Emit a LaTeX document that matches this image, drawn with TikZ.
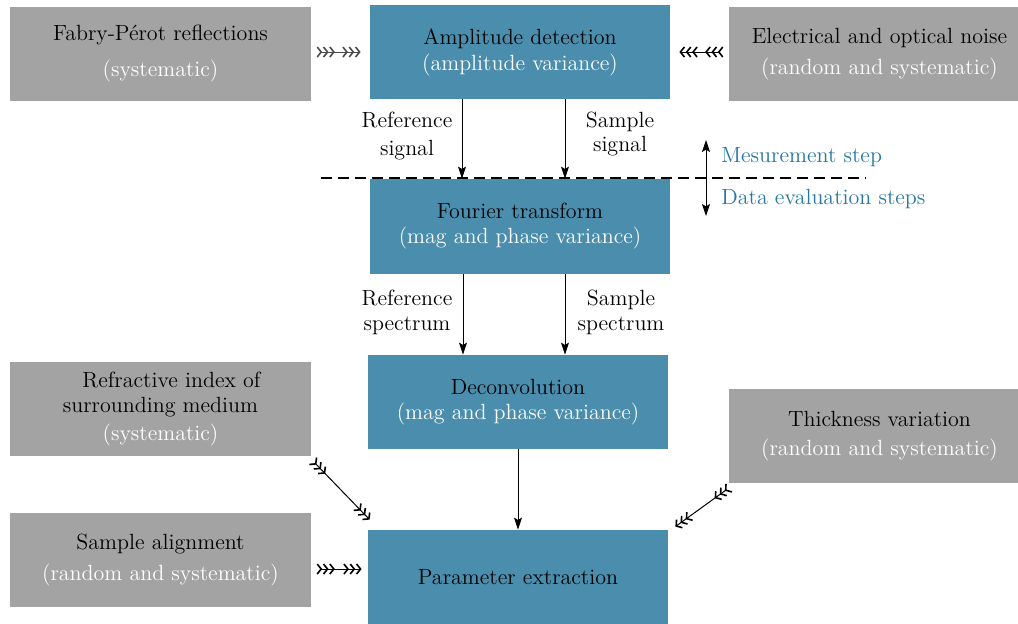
\documentclass[tikz,border=0pt]{standalone}
\usetikzlibrary{arrows.meta,calc}
\definecolor{boxblue}{HTML}{4A8DAD}
\definecolor{boxgray}{HTML}{A3A3A3}
\definecolor{notetxt}{HTML}{2577A3}
\tikzset{
  chevs/.tip={Straight Barb[length=2pt,width=5pt,line width=0.8pt,sep=0.25pt]Straight Barb[length=2pt,width=5pt,line width=0.8pt,sep=0.25pt]Straight Barb[length=2pt,width=5pt,line width=0.8pt]},
  base/.style={minimum width=150pt, minimum height=47pt, inner sep=0pt, align=center,
    font=\fontsize{11}{12.5}\selectfont},
  gbox/.style={base, fill=boxgray, minimum width=150.5pt},
  bbox/.style={base, fill=boxblue},
  lbl/.style={align=center, inner sep=0pt, font=\fontsize{11}{12.5}\selectfont},
  note/.style={anchor=west, inner sep=0pt, text=notetxt, font=\fontsize{11}{12.5}\selectfont},
  flow/.style={-{Stealth[length=6pt,width=4pt,inset=1.2pt]}, line width=0.5pt},
  feather/.style={line width=0.5pt, arrows={chevs[reversed]-chevs}},
}
\newcommand{\wh}[1]{\textcolor{white}{#1}}
\begin{document}
\begin{tikzpicture}[x=0.5pt,y=-0.5pt]
  \useasboundingbox (0,0) rectangle (1018,623);
  \clip (0,0) rectangle (1018,623);

  % process steps
  \node[bbox] (ad) at (520,52)    {Amplitude detection\\[0.5pt]\wh{(amplitude variance)}};
  \node[bbox, minimum height=47.5pt] (ft) at (520,226.5) {Fourier transform\\\wh{(mag and phase variance)}};
  \node[bbox] (dc) at (518,402)   {Deconvolution\\\wh{(mag and phase variance)}};
  \node[bbox] (pe) at (518,577)   {Parameter extraction};

  % error sources
  \node[gbox] (fp) at (160.5,54)  {Fabry-P\'erot reflections\\[5.5pt]\wh{(systematic)}};
  \node[gbox] (en) at (879.5,54)  {Electrical and optical noise\\[3pt]\wh{(random and systematic)}};
  \node[gbox] (ri) at (160.5,409) {\hspace*{11pt}Refractive index of\\surrounding medium\\[1.5pt]\wh{(systematic)}};
  \node[gbox] (tv) at (879.5,436) {Thickness variation\\[2pt]\wh{(random and systematic)}};
  \node[gbox] (sa) at (160.5,560) {Sample alignment\\[3pt]\wh{(random and systematic)}};

  % signal flow
  \draw[flow] ([xshift=-29pt]ad.south) -- ([xshift=-29pt]ad.south |- ft.north);
  \draw[flow] ([xshift=22.5pt]ad.south) -- ([xshift=22.5pt]ad.south |- ft.north);
  \draw[flow] ([xshift=-28.5pt]ft.south) -- ([xshift=-28.5pt]ft.south |- dc.north);
  \draw[flow] ([xshift=22.5pt]ft.south) -- ([xshift=22.5pt]ft.south |- dc.north);
  \draw[flow] (dc.south) -- (pe.north);

  \node[lbl] (lrs) at (407,136) {Reference\\[1.5pt]signal};
  \node[lbl] (lss) at (620,134) {Sample\\signal};
  \node[lbl] (lrp) at (407,312) {Reference\\spectrum};
  \node[lbl] (lsp) at (621,312) {Sample\\spectrum};

  % boundary between measurement and evaluation
  \coordinate (dl) at (321,178);
  \coordinate (dr) at (866,178);
  \draw[line width=1pt, dash pattern=on 5.5pt off 3pt] (dl) -- (dr);
  \coordinate (mid) at (706,178);
  \coordinate (up) at (706,140);
  \coordinate (dn) at (706,216);
  \draw[flow] (mid) -- (up);
  \draw[flow] (mid) -- (dn);
  \node[note] (ms) at (721,157) {Mesurement step};
  \node[note] (ds) at (721,199) {Data evaluation steps};

  % error contributions
  \draw[feather, draw=black!70, shorten <=2.5pt, shorten >=4.5pt] (fp.east |- ad.west) -- (ad.west);
  \draw[feather, shorten <=2.5pt, shorten >=4.5pt] (en.west |- ad.east) -- (ad.east);
  \draw[feather] ($(ri.south east)+(1,4)$) -- ($(pe.north west)+(2,-10)$);
  \draw[feather] ($(tv.south west)+(1,4)$) -- ($(pe.north east)+(7,-3)$);
  \draw[feather] ($(sa.east)+(5,9)$) -- ($(pe.west)+(-6,-8)$);
\end{tikzpicture}
\end{document}
